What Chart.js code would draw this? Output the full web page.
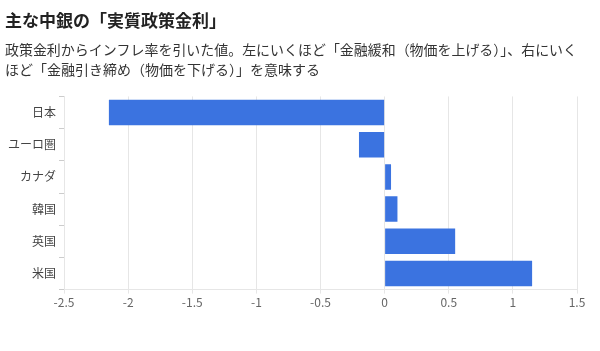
<!DOCTYPE html>
<html lang="ja">
<head>
    <meta charset="UTF-8">
    <title>主な中銀の「実質政策金利」</title>
    <script src="https://cdn.jsdelivr.net/npm/chart.js"></script>
    <style>
        html, body { margin: 0; padding: 0; background: #fff; }
        #wrap { width: 600px; height: 351px; }
    </style>
</head>
<body>
    <div id="wrap"><canvas id="chart"></canvas></div>

    <script>
        const countries = ['日本', 'ユーロ圏', 'カナダ', '韓国', '英国', '米国'];
        const realRates = [-2.15, -0.2, 0.05, 0.1, 0.55, 1.15];
        const titleText = '主な中銀の「実質政策金利」';
        const subtitleLines = [
            '政策金利からインフレ率を引いた値。左にいくほど「金融緩和（物価を上げる）」、右にいく',
            'ほど「金融引き締め（物価を下げる）」を意味する'
        ];

        const font = '"Noto Sans CJK JP", "Noto Sans", sans-serif';

        new Chart(document.getElementById('chart'), {
            type: 'bar',
            data: {
                labels: countries,
                datasets: [{
                    data: realRates,
                    backgroundColor: '#3b73e0',
                    borderWidth: 0,
                    barPercentage: 0.9,
                    categoryPercentage: 0.88
                }]
            },
            options: {
                indexAxis: 'y',
                responsive: true,
                maintainAspectRatio: false,
                animation: false,
                layout: { padding: { left: 5, right: 23, top: 0, bottom: 39 } },
                plugins: {
                    legend: { display: false },
                    tooltip: { enabled: false },
                    title: {
                        display: true,
                        text: titleText,
                        align: 'start',
                        color: '#222',
                        font: { family: font, size: 17, weight: 'bold', lineHeight: 1.2 },
                        padding: { top: 10, bottom: 9 }
                    },
                    subtitle: {
                        display: true,
                        text: subtitleLines,
                        align: 'start',
                        color: '#333',
                        font: { family: font, size: 14, lineHeight: 1.43 },
                        padding: { top: 0, bottom: 17 }
                    }
                },
                scales: {
                    x: {
                        min: -2.5,
                        max: 1.5,
                        ticks: {
                            stepSize: 0.5,
                            color: '#666',
                            padding: 2,
                            font: { family: font, size: 12 },
                            callback: value => String(value)
                        },
                        grid: { color: '#e6e6e6', tickLength: 4 },
                        border: { color: '#e6e6e6' }
                    },
                    y: {
                        ticks: {
                            color: '#444',
                            padding: 3,
                            font: { family: font, size: 12 }
                        },
                        grid: { drawOnChartArea: false, color: '#ccc', tickLength: 5 },
                        border: { color: '#e6e6e6' },
                        afterFit: scale => { scale.width = 59; }
                    }
                }
            }
        });
    </script>
</body>
</html>
